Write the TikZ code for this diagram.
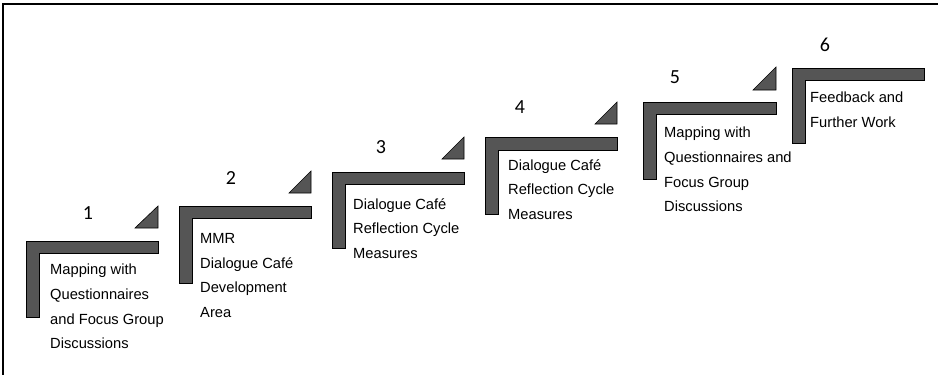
\documentclass[tikz,border=0pt]{standalone}
\usepackage{fontspec}
\setmainfont{Liberation Sans}
\newfontfamily\numfont{Carlito}
\definecolor{stepgray}{RGB}{85,85,85}

\begin{document}
\begin{tikzpicture}[x=1pt,y=-1pt,
    stair/.style={draw=black,fill=stepgray,line width=0.6pt},
    steptext/.style={anchor=north west,inner sep=0pt,align=left,font=\fontsize{14.7}{24.7}\selectfont},
    stepnum/.style={font=\numfont\fontsize{20}{22}\selectfont}]
    \useasboundingbox (0,0) rectangle (938,375);
    \draw[line width=1.2pt] (3,375) -- (3,4) -- (938,4);

    % step 1
    \draw[stair] (26,241) -- (158,241) -- (158,253) -- (39,253) -- (39,317) -- (26,317) -- cycle;
    \draw[stair] (135,228) -- (158,228) -- (158,206) -- cycle;
    \node[stepnum] (num1) at (88,213) {1};
    \node[steptext] (txt1) at (50,264) {Mapping with\\Questionnaires\\and Focus Group\\Discussions};

    % step 2
    \draw[stair] (179,206) -- (311,206) -- (311,218) -- (192,218) -- (192,283) -- (179,283) -- cycle;
    \draw[stair] (289,193) -- (311,193) -- (311,171) -- cycle;
    \node[stepnum] (num2) at (231,178) {2};
    \node[steptext] (txt2) at (200,233) {MMR\\Dialogue Café\\Development\\Area};

    % step 3
    \draw[stair] (332,172) -- (464,172) -- (464,184) -- (345,184) -- (345,248) -- (332,248) -- cycle;
    \draw[stair] (442,159) -- (464,159) -- (464,137) -- cycle;
    \node[stepnum] (num3) at (381,147) {3};
    \node[steptext] (txt3) at (353,198) {Dialogue Café\\Reflection Cycle\\Measures};

    % step 4
    \draw[stair] (485,137) -- (617,137) -- (617,150) -- (498,150) -- (498,214) -- (485,214) -- cycle;
    \draw[stair] (595,124) -- (617,124) -- (617,102) -- cycle;
    \node[stepnum] (num4) at (520,107) {4};
    \node[steptext] (txt4) at (508,159) {Dialogue Café\\Reflection Cycle\\Measures};

    % step 5
    \draw[stair] (643,102) -- (776,102) -- (776,114) -- (656,114) -- (656,179) -- (643,179) -- cycle;
    \draw[stair] (753,90) -- (776,90) -- (776,67) -- cycle;
    \node[stepnum] (num5) at (675,77) {5};
    \node[steptext] (txt5) at (664,127) {Mapping with\\Questionnaires and\\Focus Group\\Discussions};

    % step 6
    \draw[stair] (792,68) -- (924,68) -- (924,80) -- (805,80) -- (805,143) -- (792,143) -- cycle;
    \node[stepnum] (num6) at (825,45) {6};
    \node[steptext] (txt6) at (810,92) {Feedback and\\Further Work};
\end{tikzpicture}
\end{document}
